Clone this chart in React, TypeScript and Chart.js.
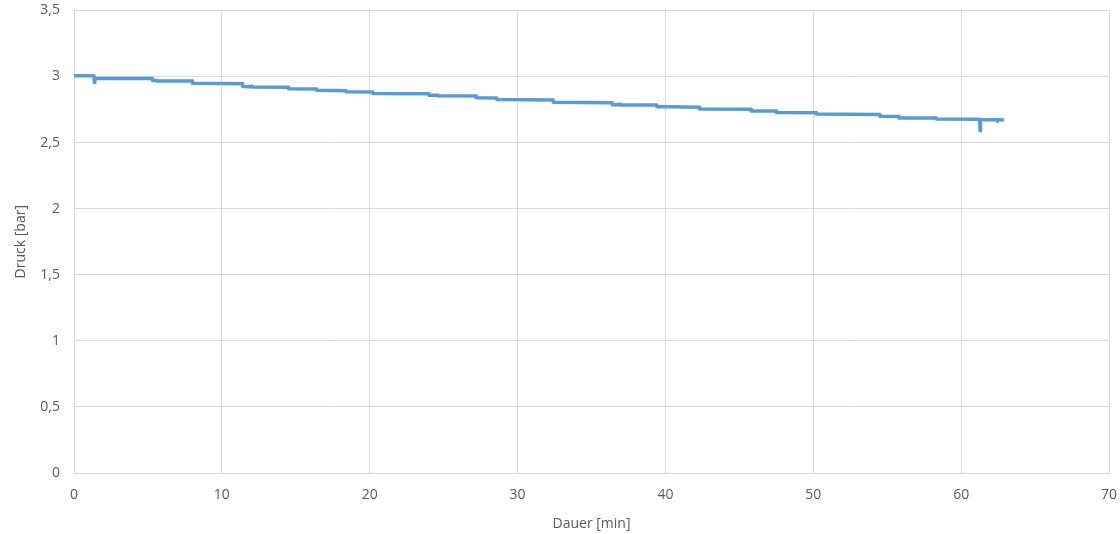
import React, { useEffect, useRef } from "react";
import { Chart, registerables } from "chart.js";

Chart.register(...registerables);

const dauer = [0, 1.35, 1.38, 1.41, 1.45, 5.3, 5.31, 5.6, 5.61, 8.0, 8.01, 11.4, 11.41, 12.0, 12.02, 12.04, 14.5, 14.51, 16.4, 16.41, 18.4, 18.41, 20.2, 20.21, 24.0, 24.01, 24.6, 24.61, 27.2, 27.21, 28.6, 28.61, 32.4, 32.41, 36.4, 36.41, 36.9, 36.92, 36.94, 39.4, 39.41, 42.3, 42.31, 45.8, 45.81, 47.5, 47.51, 50.2, 50.21, 54.5, 54.51, 55.8, 55.81, 58.3, 58.31, 61.25, 61.28, 61.31, 61.35, 62.4, 62.45, 62.5, 62.8];
const druck = [3.005, 3.005, 2.955, 2.99, 2.985, 2.985, 2.97, 2.97, 2.965, 2.965, 2.948, 2.945, 2.925, 2.923, 2.928, 2.921, 2.918, 2.908, 2.905, 2.895, 2.893, 2.885, 2.882, 2.872, 2.87, 2.858, 2.858, 2.854, 2.852, 2.84, 2.838, 2.825, 2.822, 2.805, 2.802, 2.787, 2.786, 2.791, 2.785, 2.784, 2.772, 2.768, 2.754, 2.752, 2.739, 2.738, 2.727, 2.725, 2.716, 2.713, 2.699, 2.697, 2.686, 2.685, 2.678, 2.676, 2.59, 2.672, 2.672, 2.672, 2.662, 2.675, 2.67];

const xTitle = "Dauer [min]";
const yTitle = "Druck [bar]";

export default function App() {
  const ref = useRef<HTMLCanvasElement>(null);
  useEffect(() => {
    document.body.style.margin = "0";
    const font = "'Open Sans', 'Liberation Sans', sans-serif";
    const chart = new Chart(ref.current!, {
      type: "scatter",
      data: {
        datasets: [
          {
            data: dauer.map((x, i) => ({ x, y: druck[i] })),
            showLine: true,
            borderColor: "#5B9BD5",
            backgroundColor: "#5B9BD5",
            borderWidth: 3.5,
            borderJoinStyle: "round",
            borderCapStyle: "round",
            pointRadius: 0,
            tension: 0,
          },
        ],
      },
      options: {
        animation: false,
        responsive: false,
        layout: { padding: { top: 0, right: 11, left: 0, bottom: 0 } },
        plugins: { legend: { display: false }, tooltip: { enabled: false } },
        scales: {
          x: {
            type: "linear",
            min: 0,
            max: 70,
            ticks: {
              stepSize: 10,
              color: "#595959",
              font: { family: font, size: 14 },
              padding: 2,
            },
            grid: { color: "#d9d9d9", drawTicks: true, tickLength: 12, tickColor: "rgba(0,0,0,0)" },
            border: { color: "#d9d9d9" },
            title: {
              display: true,
              text: xTitle,
              color: "#595959",
              font: { family: font, size: 14 },
              padding: { top: 6, bottom: 2 },
            },
            afterFit: (s: any) => {
              s.height = 61;
            },
          },
          y: {
            min: 0,
            max: 3.5,
            ticks: {
              stepSize: 0.5,
              color: "#595959",
              font: { family: font, size: 14 },
              padding: 2,
              callback: (v: any) => String(v).replace(".", ","),
            },
            grid: { color: "#d9d9d9", drawTicks: true, tickLength: 12, tickColor: "rgba(0,0,0,0)" },
            border: { color: "#d9d9d9" },
            title: {
              display: true,
              text: yTitle,
              color: "#595959",
              font: { family: font, size: 14 },
              padding: { top: 13, bottom: 0 },
            },
            afterFit: (s: any) => {
              s.width = 74;
            },
          },
        },
      },
    });
    return () => chart.destroy();
  }, []);
  return <canvas ref={ref} width={1120} height={534} style={{ display: "block" }} />;
}
